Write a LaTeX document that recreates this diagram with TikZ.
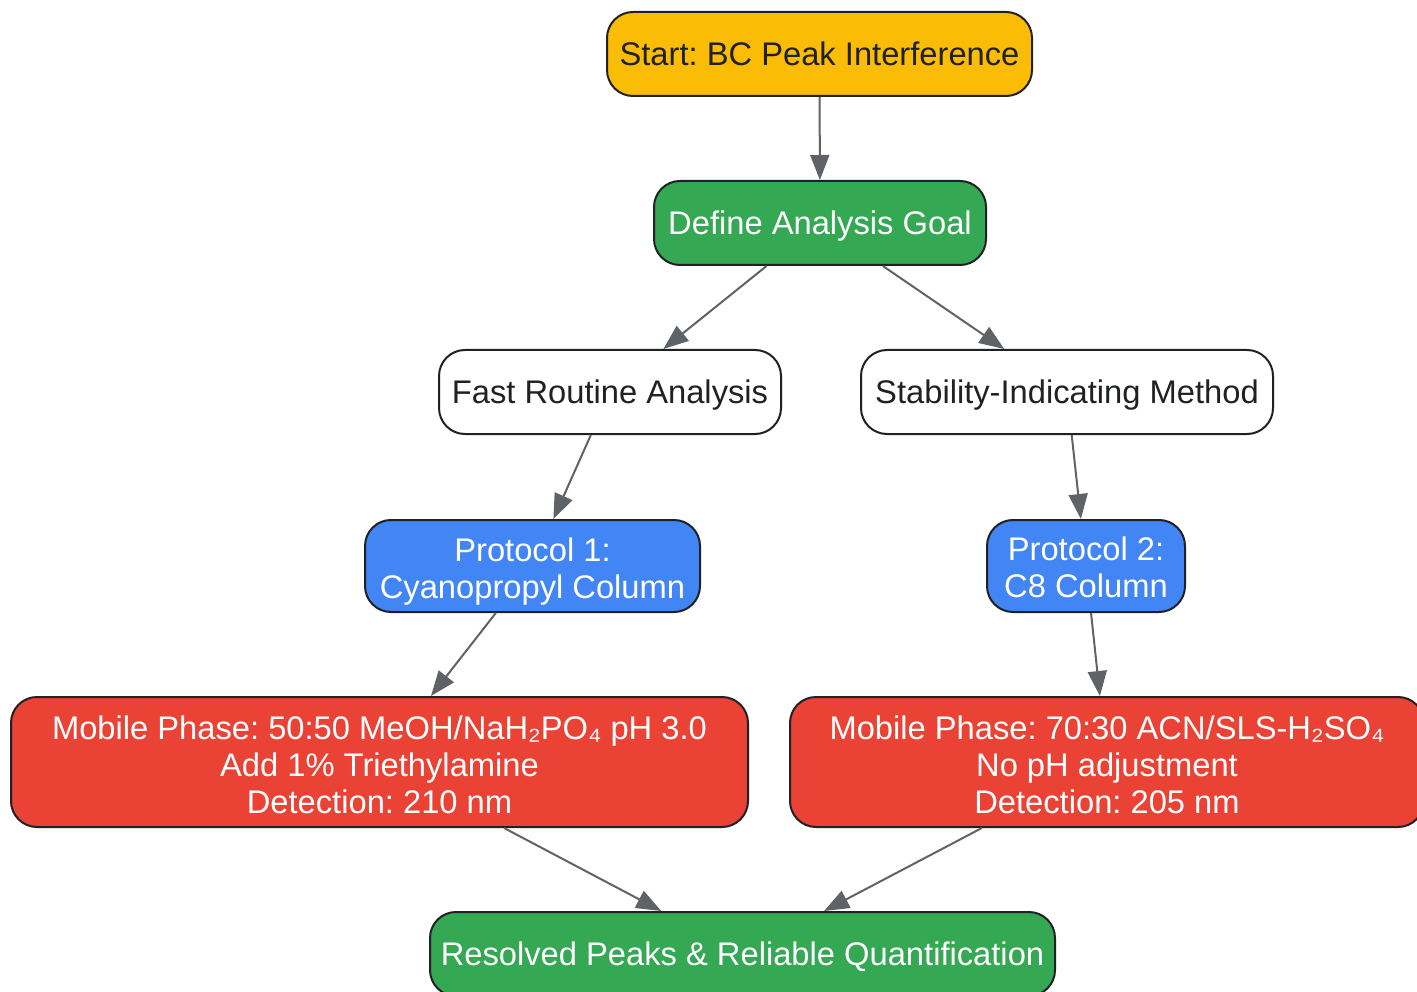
\documentclass[tikz,border=0pt]{standalone}
\usepackage{fontspec}
\setmainfont{Liberation Sans}
\frenchspacing
\usetikzlibrary{arrows.meta}
\definecolor{cyellow}{HTML}{FBBC05}
\definecolor{cgreen}{HTML}{34A853}
\definecolor{cblue}{HTML}{4285F4}
\definecolor{cred}{HTML}{EA4335}
\definecolor{cdark}{HTML}{202124}
\definecolor{cedge}{HTML}{5F6368}
\newcommand\mytopstrut[1]{\rule{0pt}{#1}}
\begin{document}
\begin{tikzpicture}[x=1pt,y=1pt,
  box/.style={draw=cdark, line width=2pt, rounded corners=26pt, inner sep=0pt,
    align=center, font=\fontsize{32.7}{37}\selectfont\frenchspacing, minimum height=84pt},
  oneline/.style={text depth=0pt},
  darktext/.style={text=cdark},
  lighttext/.style={text=white},
  conn/.style={draw=cedge, line width=2pt, -{Triangle[length=25pt,width=19pt]}}]
\useasboundingbox (0,0) rectangle (1417,-992);
\node[box, oneline, darktext, fill=cyellow, minimum width=425pt] (start) at (819.5,-54) {Start: BC Peak Interference};
\node[box, oneline, lighttext, fill=cgreen, minimum width=332pt] (goal) at (820,-223) {Define Analysis Goal};
\node[box, oneline, darktext, fill=white, minimum width=342pt] (fast) at (610,-392) {Fast Routine Analysis};
\node[box, oneline, darktext, fill=white, minimum width=412pt] (stab) at (1067,-392) {Stability-Indicating Method};
\node[box, lighttext, fill=cblue, minimum width=335pt, minimum height=92pt] (p1) at (532.5,-566) {\mytopstrut{34pt}Protocol 1:\\Cyanopropyl Column};
\node[box, lighttext, fill=cblue, minimum width=198pt, minimum height=92pt] (p2) at (1086,-566) {\mytopstrut{26pt}Protocol 2:\\C8 Column};
\node[box, lighttext, fill=cred, minimum width=737pt, minimum height=130pt] (m1) at (379.5,-762) {\mytopstrut{30pt}Mobile Phase: 50:50 MeOH/NaH₂PO₄ pH 3.0\\Add 1\% Triethylamine\\Detection: 210 nm};
\node[box, lighttext, fill=cred, minimum width=634pt, minimum height=130pt] (m2) at (1107,-762) {\mytopstrut{30pt}Mobile Phase: 70:30 ACN/SLS-H₂SO₄\\No pH adjustment\\Detection: 205 nm};
\node[box, oneline, lighttext, fill=cgreen, minimum width=625pt] (res) at (742.5,-954) {Resolved Peaks \& Reliable Quantification};
\draw[conn] (start) -- (goal);
\draw[conn] (goal) -- (fast);
\draw[conn] (goal) -- (stab);
\draw[conn] (fast) -- (p1);
\draw[conn] (stab) -- (p2);
\draw[conn] (p1) -- (m1);
\draw[conn] (p2) -- (m2);
\draw[conn] (m1) -- (res);
\draw[conn] (m2) -- (res);
\end{tikzpicture}
\end{document}
